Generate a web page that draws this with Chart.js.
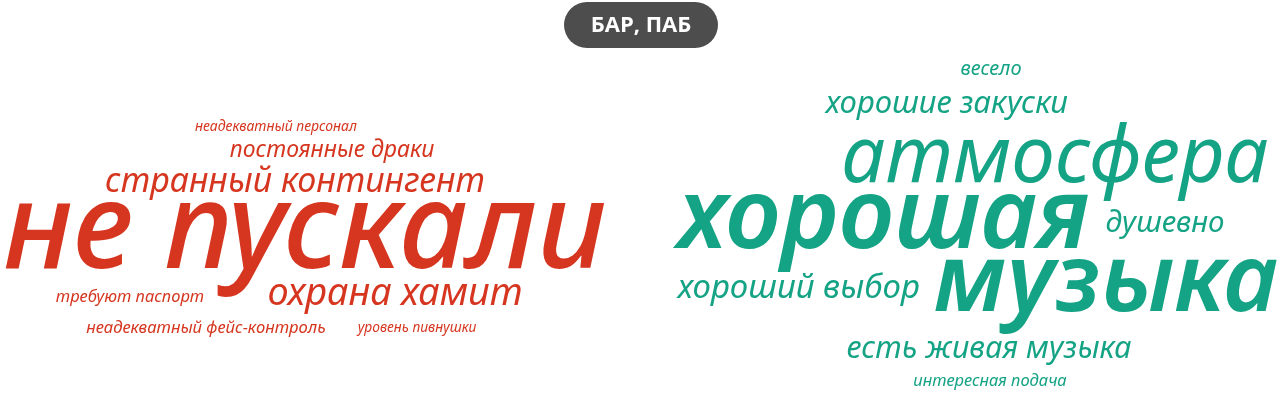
<!DOCTYPE html>
<html>
<head>
<meta charset="utf-8">
<script src="https://cdn.jsdelivr.net/npm/chart.js@4/dist/chart.umd.min.js"></script>
<style>
html,body{margin:0;padding:0;background:#fff;}
#wrap{width:1280px;height:405px;}
</style>
</head>
<body>
<div id="wrap"><canvas id="c" width="1280" height="405"></canvas></div>
<script>
const chartTitle = "БАР, ПАБ";

// Negative mentions (red cloud)
const badWords = ["неадекватный персонал","постоянные драки","странный контингент","не пускали","требуют паспорт","охрана хамит","неадекватный фейс-контроль","уровень пивнушки"];
const badWeights = [14, 23, 34, 120, 16.5, 38, 16.6, 13.8];
const badX = [276, 332, 295, 305, 130, 395, 206, 417];
const badY = [131, 157, 192, 268, 302, 305, 333, 332];

// Positive mentions (green cloud)
const goodWords = ["весело","хорошие закуски","атмосфера","хорошая","душевно","хороший выбор","музыка","есть живая музыка","интересная подача"];
const goodWeights = [20, 31, 78, 98, 29.5, 33, 95, 30.5, 16.5];
const goodX = [991, 947, 1055, 884, 1165, 799, 1106, 989, 990];
const goodY = [75, 113, 182, 248, 232, 298, 311, 358, 386];

const RED = "#d6361f";
const GREEN = "#14a384";

function pts(xs, ys){ return xs.map((x,i)=>({x:x, y:ys[i]})); }

const wordPlugin = {
  id: 'wordcloud',
  afterDatasetsDraw(chart){
    const ctx = chart.ctx;
    chart.data.datasets.forEach((ds, di) => {
      const meta = chart.getDatasetMeta(di);
      meta.data.forEach((el, j) => {
        const w = ds.weights[j];
        const fw = w >= 90 ? ds.heavyWeight : 400;
        ctx.save();
        ctx.font = `italic ${fw} ${w}px "Noto Sans"`;
        ctx.fillStyle = ds.textColor;
        ctx.textAlign = 'center';
        ctx.textBaseline = 'alphabetic';
        ctx.fillText(ds.words[j], el.x, el.y);
        ctx.restore();
      });
    });
  },
  afterDraw(chart){
    const ctx = chart.ctx;
    const cx = chart.chartArea.left + chart.chartArea.width/2 + 1;
    const w = 154, h = 46, top = 2;
    const left = cx - w/2;
    ctx.save();
    ctx.fillStyle = "#4d4d4d";
    ctx.beginPath();
    ctx.roundRect(left, top, w, h, h/2);
    ctx.fill();
    ctx.fillStyle = "#ffffff";
    ctx.font = '700 22px "Open Sans"';
    ctx.textAlign = 'center';
    ctx.textBaseline = 'middle';
    ctx.fillText(chartTitle, cx, top + h/2 + 1);
    ctx.restore();
  }
};

new Chart(document.getElementById('c'), {
  type: 'scatter',
  data: {
    datasets: [
      { label: 'negative', data: pts(badX, badY), words: badWords, weights: badWeights, textColor: RED, heavyWeight: 500, pointRadius: 0, pointHoverRadius: 0 },
      { label: 'positive', data: pts(goodX, goodY), words: goodWords, weights: goodWeights, textColor: GREEN, heavyWeight: 600, pointRadius: 0, pointHoverRadius: 0 }
    ]
  },
  options: {
    responsive: false,
    devicePixelRatio: 1,
    animation: false,
    layout: { padding: 0 },
    plugins: { legend: { display: false }, tooltip: { enabled: false }, title: { display: false } },
    scales: {
      x: { type: 'linear', min: 0, max: 1280, display: false },
      y: { type: 'linear', min: 0, max: 405, reverse: true, display: false }
    }
  },
  plugins: [wordPlugin]
});
</script>
</body>
</html>
